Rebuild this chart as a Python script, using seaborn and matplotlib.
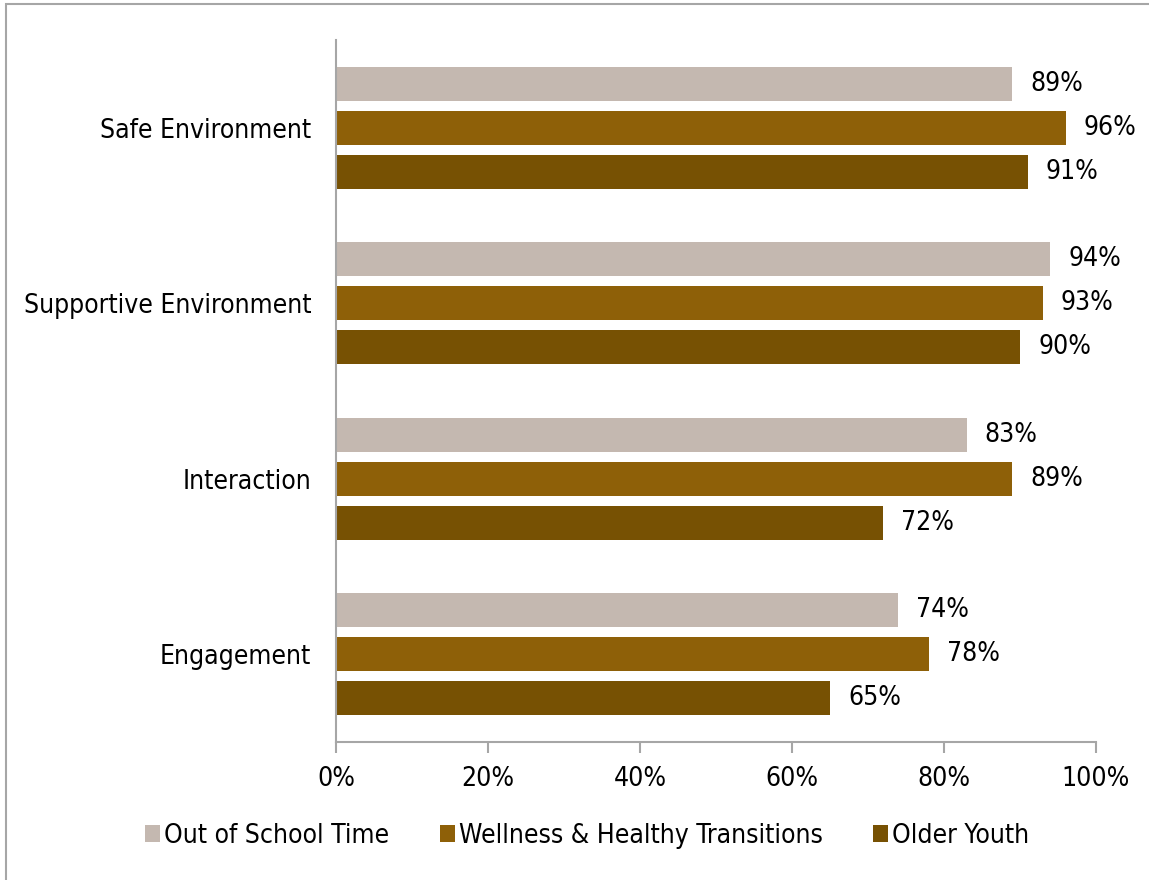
import numpy as np
import pandas as pd
import matplotlib
matplotlib.use("Agg")
import matplotlib.pyplot as plt
from matplotlib.patches import Rectangle, Patch
import seaborn as sns

categories = ["Safe Environment", "Supportive Environment", "Interaction", "Engagement"]
programs = ["Out of School Time", "Wellness & Healthy Transitions", "Older Youth"]
out_of_school = [89, 94, 83, 74]
wellness = [96, 93, 89, 78]
older_youth = [91, 90, 72, 65]
x_ticks = [0, 20, 40, 60, 80, 100]
colors = ["#C4B8B0", "#8E6008", "#775103"]

rows = []
for prog, vals in zip(programs, [out_of_school, wellness, older_youth]):
    for cat, v in zip(categories, vals):
        rows.append({"category": cat, "program": prog, "value": v})
df = pd.DataFrame(rows)

sns.set_style("white")
plt.rcParams["font.family"] = ["DejaVu Sans"]
plt.rcParams["font.stretch"] = "condensed"
plt.rcParams["text.color"] = "black"
plt.rcParams["xtick.color"] = "black"
plt.rcParams["ytick.color"] = "black"

fig = plt.figure(figsize=(11.49, 8.8), dpi=100)
ax = fig.add_axes([336 / 1149, 138 / 880, 760 / 1149, 702 / 880])

sns.barplot(data=df, y="category", x="value", hue="program", order=categories,
            hue_order=programs, palette=colors, orient="h", width=0.75, gap=0.22,
            ax=ax, legend=False, saturation=1, edgecolor="none", err_kws={"linewidth": 0})

ax.set_xlim(0, 100)
ax.set_ylim(3.5, -0.5)
ax.set_xticks(x_ticks)
ax.set_xticklabels([f"{t}%" for t in x_ticks], fontsize=19, color="black")
ax.tick_params(axis="y", labelsize=19, length=0, pad=18, labelcolor="black")
ax.tick_params(axis="x", length=8, width=1.5, color="#A6A6A6", direction="out",
               bottom=True, pad=9, labelcolor="black")
ax.set_xlabel("")
ax.set_ylabel("")
for side in ["top", "right"]:
    ax.spines[side].set_visible(False)
for side in ["left", "bottom"]:
    ax.spines[side].set_color("#A6A6A6")
    ax.spines[side].set_linewidth(1.5)

for container in ax.containers:
    ax.bar_label(container, labels=[f"{v:.0f}%" for v in container.datavalues],
                 padding=13, fontsize=19, color="black")

handles = [Patch(facecolor=c, edgecolor="none", label=p) for c, p in zip(colors, programs)]
fig.legend(handles=handles, loc="center", bbox_to_anchor=(0.511, 44 / 880), ncol=3,
           frameon=False, fontsize=19, handlelength=0.58, handleheight=0.58,
           handletextpad=0.15, columnspacing=1.9, labelcolor="black")

# outer chart frame
fig.patches.append(Rectangle((6 / 1149, -0.05), 1.2, 1.05 - 4 / 880,
                             transform=fig.transFigure, fill=False,
                             edgecolor="#A6A6A6", linewidth=1.5))

fig.savefig("out.png", dpi=100)
